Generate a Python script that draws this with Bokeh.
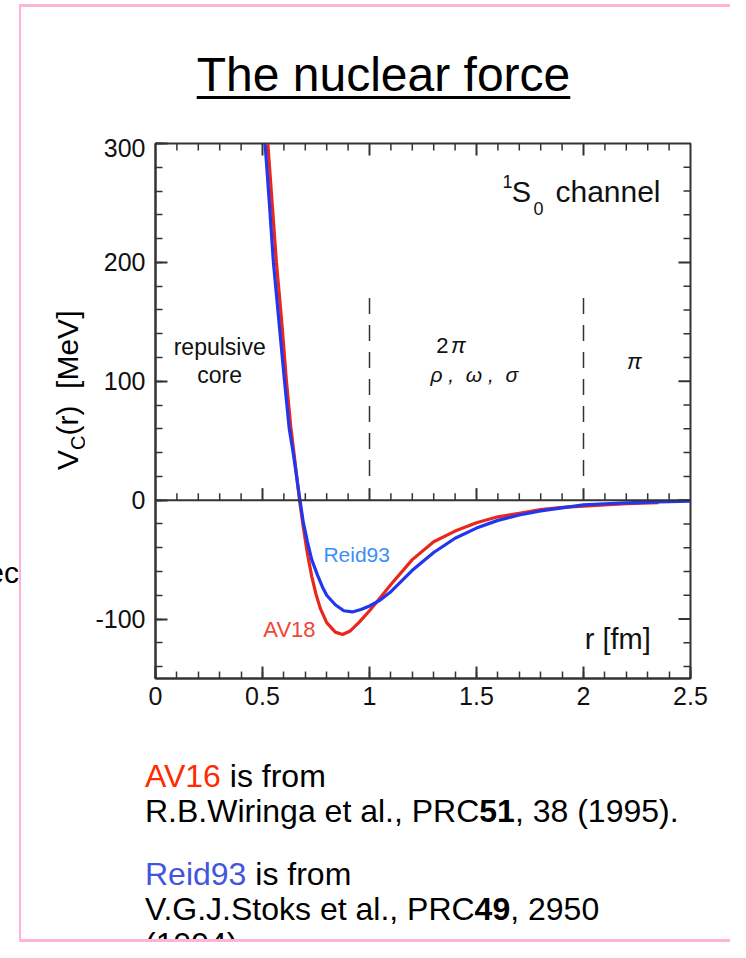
import numpy as np
from bokeh.plotting import figure
from bokeh.layouts import column, row
from bokeh.models import Div, SingleIntervalTicker, Range1d, Span
from bokeh.core.properties import value
from bokeh.embed import file_html
from bokeh.resources import INLINE

# ---------------- data ----------------
r_av18 = [0.525, 0.545, 0.565, 0.59, 0.612, 0.632, 0.65, 0.673, 0.69, 0.71, 0.73, 0.75, 0.77,
          0.80, 0.84, 0.874, 0.91, 0.95, 1.00, 1.05, 1.10, 1.20, 1.30, 1.40, 1.50, 1.60, 1.70,
          1.80, 1.90, 2.00, 2.10, 2.20, 2.35]
v_av18 = [300, 250, 200, 150, 100, 62, 35, 0, -22, -45, -64, -79, -91,
          -103, -111, -113, -110, -103, -93, -82, -71, -50, -35, -26, -19, -14, -11,
          -8, -6, -5, -4, -3, -2]

r_reid = [0.512, 0.532, 0.551, 0.577, 0.603, 0.625, 0.645, 0.675, 0.69, 0.71, 0.73, 0.757, 0.78,
          0.80, 0.84, 0.88, 0.92, 0.96, 1.00, 1.05, 1.10, 1.20, 1.30, 1.40, 1.50, 1.60, 1.70,
          1.80, 1.90, 2.00, 2.10, 2.20, 2.35, 2.50]
v_reid = [300, 250, 200, 150, 100, 60, 38, 0, -18, -35, -50, -63, -73,
          -80, -88, -93, -94, -92, -89, -84, -77, -59, -44, -32, -23.5, -17, -12.5,
          -9, -6.5, -4, -3, -2.2, -1.4, -0.9]

x_ticks = [0, 0.5, 1, 1.5, 2, 2.5]
x_tick_labels = ["0", "0.5", "1", "1.5", "2", "2.5"]
y_ticks = [-100, 0, 100, 200, 300]
y_tick_labels = ["-100", "0", "100", "200", "300"]
x_fine_ticks = [round(0.1 * i, 1) for i in range(1, 25)]
y_fine_ticks = list(range(-140, 300, 20))
region_bounds = [1.0, 2.0]
region_dash_top = 170
region_dash_bottom = 12

FONT = "Liberation Sans"
AXC = "#333333"
PINK = "#ffb3d9"

p = figure(width=645, height=580, x_range=Range1d(0, 2.5), y_range=Range1d(-150, 300),
           output_backend="svg", toolbar_location=None,
           min_border_left=70, min_border_right=40, min_border_top=5, min_border_bottom=40)
p.grid.visible = False
p.outline_line_color = AXC
p.outline_line_width = 2
p.background_fill_color = "white"
p.border_fill_color = "white"

p.xaxis.ticker = SingleIntervalTicker(interval=0.5, num_minor_ticks=5)
p.yaxis.ticker = SingleIntervalTicker(interval=100, num_minor_ticks=5)
p.xaxis.major_label_overrides = {t: l for t, l in zip(x_ticks, x_tick_labels)}
p.yaxis.major_label_overrides = {t: l for t, l in zip(y_ticks, y_tick_labels)}

for ax in [p.xaxis[0], p.yaxis[0]]:
    ax.axis_line_width = 2
    ax.axis_line_color = AXC
    ax.major_tick_in = 12
    ax.major_tick_out = 0
    ax.minor_tick_in = 7
    ax.minor_tick_out = 0
    ax.major_tick_line_width = 2
    ax.minor_tick_line_width = 1.5
    ax.major_tick_line_color = AXC
    ax.minor_tick_line_color = AXC
    ax.major_label_text_font = FONT
    ax.major_label_text_color = "#111111"
    ax.major_label_text_font_size = "25px"
p.xaxis[0].major_label_standoff = 8
p.yaxis[0].major_label_standoff = 10


def is_major(v, step):
    return abs(v / step - round(v / step)) < 1e-9


xmaj = [t for t in x_fine_ticks if is_major(t, 0.5)]
xmin = [t for t in x_fine_ticks if not is_major(t, 0.5)]
ymaj = [t for t in y_fine_ticks if is_major(t, 100)]
ymin = [t for t in y_fine_ticks if not is_major(t, 100)]

# top edge ticks (pointing down) and right edge ticks (pointing left)
p.ray(x=xmin, y=[300] * len(xmin), length=7, length_units="screen", angle=-np.pi / 2,
      line_color=AXC, line_width=1.5)
p.ray(x=xmaj, y=[300] * len(xmaj), length=12, length_units="screen", angle=-np.pi / 2,
      line_color=AXC, line_width=2)
p.ray(x=[2.5] * len(ymin), y=ymin, length=7, length_units="screen", angle=np.pi,
      line_color=AXC, line_width=1.5)
p.ray(x=[2.5] * len(ymaj), y=ymaj, length=12, length_units="screen", angle=np.pi,
      line_color=AXC, line_width=2)

# zero line with upward ticks
p.add_layout(Span(location=0, dimension="width", line_color=AXC, line_width=2))
p.ray(x=xmin, y=[0] * len(xmin), length=7, length_units="screen", angle=np.pi / 2,
      line_color=AXC, line_width=1.5)
p.ray(x=xmaj, y=[0] * len(xmaj), length=12, length_units="screen", angle=np.pi / 2,
      line_color=AXC, line_width=2)

# region boundaries
p.segment(x0=region_bounds, y0=[region_dash_top] * 2, x1=region_bounds, y1=[region_dash_bottom] * 2,
          line_color=AXC, line_width=1.5, line_dash="16 11")

# curves
p.line(r_av18, v_av18, line_color="#e8281c", line_width=3.2)
p.line(r_reid, v_reid, line_color="#2236ee", line_width=3.2)


def txt(x, y, s, size, color="#111111", align="center", style="normal", baseline="middle"):
    p.text(x=[x], y=[y], text=[s], text_font=value(FONT), text_font_size=value(size),
           text_color=color, text_align=align, text_baseline=baseline, text_font_style=style)


txt(0.30, 129, "repulsive", "23px")
txt(0.30, 105, "core", "23px")
txt(1.34, 130, "2", "22px")
txt(1.415, 130, "π", "22px", style="italic")
txt(1.49, 106, "ρ\u00a0, \u00a0ω\u00a0, \u00a0σ", "21px", style="italic")
txt(2.238, 117, "π", "22px", style="italic")
txt(0.94, -45.5, "Reid93", "21px", color="#3d8ef5")
txt(0.626, -108.7, "AV18", "22px", color="#f0453a")
txt(2.16, -117, "r [fm]", "29px")
# 1S0 channel
txt(2.36, 259.5, "channel", "30px", align="right")
txt(1.71, 259.5, "S", "29px")
txt(1.645, 268, "1", "18px")
txt(1.79, 245, "0", "18px")

# ---------------- slide text around the chart (HTML) ----------------
FF = "font-family:'Liberation Sans',Arial,sans-serif;"
ASC = 0.8465  # baseline offset of Liberation Sans with line-height 1
X0 = 21       # x where the text column starts (right of the pink slide edge)


def box_html(w, h, inner):
    return ('<div style="position:relative;width:%dpx;height:%dpx;overflow:hidden;%s'
            'line-height:1;color:#000;background:#fff;">%s</div>' % (w, h, FF, inner))


def abs_text(left, top, size, html):
    return ('<div style="position:absolute;left:%spx;top:%spx;font-size:%dpx;line-height:1;'
            'white-space:nowrap;">%s</div>' % (left, top, size, html))


def hline(top):
    return ('<div style="position:absolute;left:0;top:%spx;width:720px;height:2.5px;background:%s;"></div>'
            % (top, PINK))


W_MAIN = 730 - X0

# strip left of the slide edge (holds the cut-off word)
edge_inner = ('<div style="position:absolute;right:0;top:%.1fpx;font-size:30px;line-height:1;'
              'white-space:nowrap;">ec</div>' % (583 - ASC * 30))
edge_div = Div(text=box_html(19, 942, edge_inner), width=19, height=942, margin=0)

# pink slide edge
pink_gap = Div(text="", width=2, height=4, margin=0)
pink_edge = Div(text="", width=2, height=938, margin=0, styles={"background-color": PINK})

# top area: y 0..138
title_fs = 48
top_inner = (hline(4) +
             '<div style="position:absolute;left:0;width:%dpx;top:%.1fpx;text-align:center;'
             'font-size:%dpx;line-height:1;white-space:nowrap;">'
             '<span style="text-decoration:underline;text-decoration-thickness:2.5px;'
             'text-underline-offset:5px;">The nuclear force</span></div>'
             % (2 * (383.5 - X0), 92 - ASC * title_fs, title_fs))
top_div = Div(text=box_html(W_MAIN, 138, top_inner), width=W_MAIN, height=138, margin=0)

# area beside the chart: x 21..85, y 138..718
ylab_fs = 30
left_inner = ('<div style="position:absolute;left:%.1fpx;top:%dpx;transform-origin:0 0;'
              'transform:rotate(-90deg);font-size:%dpx;line-height:1;white-space:nowrap;">'
              'V<span style="font-size:20px;position:relative;top:7px;">C</span>(r)&nbsp;&nbsp;[MeV]</div>'
              % (57 - 3.9 - X0, 470 - 138, ylab_fs))
left_div = Div(text=box_html(85 - X0, 580, left_inner), width=85 - X0, height=580, margin=0)

# bottom area: y 718..942
FS = 32
RED_T = "#ff2a00"
BLUE_T = "#4455dd"
ref_lines = [
    (787, '<span style="color:%s">AV16</span> is from' % RED_T),
    (822, 'R.B.Wiringa et al., PRC<b>51</b>, 38 (1995).'),
    (885, '<span style="color:%s">Reid93</span> is from' % BLUE_T),
    (920, 'V.G.J.Stoks et al., PRC<b>49</b>, 2950'),
    (955, '(1994).'),
]
bottom_inner = ''
for yb, html in ref_lines:
    bottom_inner += abs_text(145 - X0, "%.1f" % (yb - 718 - ASC * FS), FS, html)
bottom_inner += hline(221)
bottom_div = Div(text=box_html(W_MAIN, 224, bottom_inner), width=W_MAIN, height=224, margin=0)

main = column(top_div, row(left_div, p, spacing=0), bottom_div, spacing=0)
layout = row(edge_div, column(pink_gap, pink_edge, spacing=0), main, spacing=0)

open("out.html", "w").write(file_html(layout, INLINE))
